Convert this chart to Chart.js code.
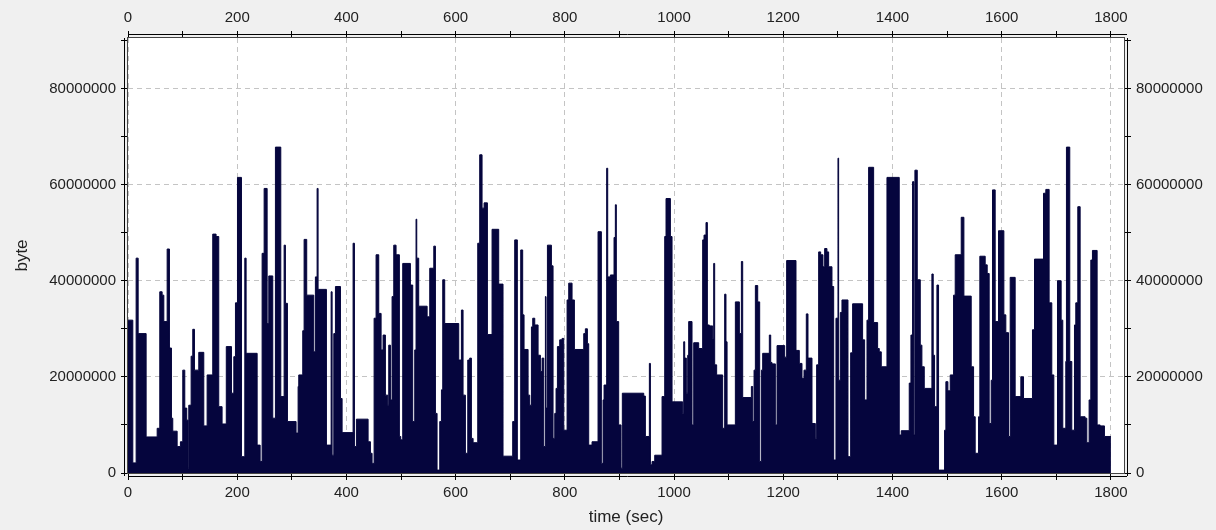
<!DOCTYPE html>
<html>
<head>
<meta charset="utf-8">
<script src="https://cdn.jsdelivr.net/npm/chart.js@4.4.0/dist/chart.umd.min.js"></script>
<style>
  html, body { margin: 0; padding: 0; background: #f0f0f0; }
  #wrap { width: 1216px; height: 530px; position: relative; }
</style>
</head>
<body>
<div id="wrap"><canvas id="traffic"></canvas></div>
<script>
// step start times (sec) and the byte count held from that time on
const times = [
  0, 8.8, 14.9, 18.6, 33.2, 53.4, 58.2, 62.5, 65.6, 71.7, 75.9, 79.6, 82, 90, 96, 100.3, 104, 107.6, 110, 111.3,
  115.6, 118.6, 121.7, 129.6, 138.8, 144.9, 155.2, 161.3, 166.2, 172.3,
  180, 189.5, 193.8, 196.8, 200.5, 207.8, 213.9, 216.3, 236.5, 242, 245.6, 249.3, 254.8, 257.8, 265.1, 270, 279.8,
  285.9, 288.3, 292, 307.8, 311.5, 312.7, 320, 322.5, 327.3, 340.2, 343.2, 346.3, 348.1,
  363.4, 372, 373.8, 376.9, 379.9, 389.1, 392.1, 412.2, 414.7, 418.3, 439.7, 444, 447, 450.7, 454.3, 459.2, 463.5,
  467.1, 471.4, 475.7, 477.5, 480.6, 483.6, 486.7, 490.9, 497, 499.5, 503.1, 517.2, 521.4, 525.1, 527.5, 528.8, 532.4,
  547.8, 552.6, 560, 563, 566, 570.9, 574, 576.4, 580, 605.7, 610.6, 613.6, 617.9, 622.2, 625.8, 628.9, 632, 640.5,
  644.1, 648.4, 652.1, 658.2, 666.7, 678.9, 686.8, 704.5, 708.2, 713, 719.2, 722.8, 725.3,
  732.7, 735.7, 738.8, 741.2, 744.9, 751, 755.3, 758.3, 761.4, 764.4, 765.6, 768.1, 775.4, 778.4, 781.5, 783.9, 786.4,
  790.6, 794.9, 798, 804.1, 807.1, 813.2, 817.5, 834.6, 837.6, 841.3, 843.7, 849.8, 860.8, 866.9, 870, 871.8, 876.6,
  878.5, 883.4, 890.1, 892.5, 894.3, 898.6, 902.9, 905.3,
  944.5, 947.5, 954.8, 956.7, 959.7, 964.6, 978, 982.9, 985.3, 993.3, 996.3, 1015.8, 1017.7, 1019.5, 1022.5, 1025,
  1026.8, 1032.9, 1036, 1045.1, 1052.4, 1054.9, 1058.5, 1061, 1064.6, 1070.7, 1072.6, 1074.4, 1078, 1089, 1092.7, 1095.1,
  1097.1, 1112.3, 1119.6, 1123.3, 1125.7, 1141.6, 1144, 1146.5, 1148.9, 1153.2, 1156.8, 1159.9, 1162.3, 1174.5, 1177,
  1179.4, 1185.5, 1188.6, 1202.6, 1206.2, 1223.3, 1229.4, 1234.3, 1238, 1242.2, 1245.3, 1252.6, 1258.7, 1261.1, 1264.8,
  1268.5, 1272.7, 1275.8,
  1280, 1283.1, 1289.2, 1292.3, 1296.5, 1300.2, 1301.4, 1304.5, 1307.5, 1318.5, 1323.4, 1327, 1345.3, 1349, 1353.3,
  1356.3, 1365.5, 1372.8, 1375.8, 1379.5, 1389.9, 1412.4, 1416.1, 1430.7, 1433.8, 1436.8, 1439.3, 1441.1, 1445.4,
  1450.9, 1453.9, 1458.2,
  1472.2, 1474.6, 1477.1, 1481.4, 1484.4, 1495.4, 1497.8, 1501.5, 1505.8, 1511.9, 1514.9, 1525.9, 1530.8, 1544.2,
  1548.5, 1551.5, 1557.6, 1560, 1569.8, 1573.5, 1577.1, 1580.8, 1583.2, 1588.1, 1594.2, 1604, 1607.6, 1612.5, 1615.6,
  1624.7, 1635.1, 1640,
  1656.4, 1660.1, 1676.6, 1680.8, 1686.9, 1691.8, 1695.5, 1702.2, 1708.9, 1711.9, 1717.4, 1718.6, 1724.7, 1728.4,
  1733.3, 1735.7, 1739.4, 1743.7, 1752.8, 1755.9, 1760.1, 1763.2, 1766.2, 1774.8, 1780.3, 1788.2, 1800
];
const bytes = [
  31.8e6, 2.1e6, 44.7e6, 29e6, 7.5e6, 9.3e6, 37.7e6, 37e6, 31.5e6, 46.6e6, 26e6, 11.4e6, 8.7e6, 5.5e6, 6.5e6, 21.4e6, 13.5e6, 11e6, 1e6, 14.1e6,
  24.3e6, 29.9e6, 21.4e6, 25.1e6, 9.8e6, 20.4e6, 49.7e6, 49.2e6, 13.8e6, 10.2e6,
  26.3e6, 16.6e6, 24.2e6, 35.4e6, 61.5e6, 3.4e6, 44.7e6, 24.9e6, 5.8e6, 2.4e6, 45.7e6, 59.2e6, 31.1e6, 41e6, 11.4e6, 67.8e6, 15.9e6,
  47.4e6, 35.3e6, 10.7e6, 8.3e6, 18e6, 20.4e6, 29.6e6, 48.6e6, 37e6, 25.2e6, 40.8e6, 59.2e6, 38.2e6,
  5.8e6, 37.7e6, 3.7e6, 29e6, 38.8e6, 15.5e6, 8.4e6, 47.8e6, 5.5e6, 11.2e6, 6.5e6, 4.1e6, 2e6, 32.2e6, 45.4e6, 33.2e6, 25.6e6,
  28.7e6, 16.2e6, 14.1e6, 26.6e6, 15.2e6, 36.7e6, 47.4e6, 45.4e6, 7.6e6, 6.9e6, 43.6e6, 39.1e6, 10.7e6, 25.6e6, 52.8e6, 44.7e6, 34.7e6,
  32.5e6, 42.6e6, 47.2e6, 12.4e6, 0.6e6, 10.7e6, 17.3e6, 40.2e6, 31.1e6, 23.5e6, 33.9e6, 16.2e6, 4.1e6, 23.5e6, 23.9e6, 7.2e6, 6.3e6, 47.8e6,
  66.2e6, 55.1e6, 56.2e6, 28.8e6, 50.7e6, 39.3e6, 3.5e6, 10.7e6, 48.5e6, 2.7e6, 46.4e6, 32.9e6, 25.7e6,
  16.2e6, 14.1e6, 30.4e6, 32.2e6, 30.8e6, 24.5e6, 21.1e6, 23.9e6, 5.5e6, 36.7e6, 13.5e6, 47.4e6, 43.1e6, 7.2e6, 12.4e6, 17.6e6, 26.3e6,
  27.7e6, 28e6, 8.9e6, 36e6, 39.5e6, 36e6, 25.7e6, 29e6, 30e6, 26.9e6, 5.8e6, 6.5e6, 50.2e6, 2e6, 15.2e6, 18.3e6, 63.4e6,
  40.8e6, 41.2e6, 49e6, 55.8e6, 31.5e6, 10e6, 1e6, 16.6e6,
  16e6, 7.6e6, 22.8e6, 1.7e6, 2.4e6, 3.7e6, 15.9e6, 49.2e6, 57.1e6, 49.2e6, 14.8e6, 12.4e6, 27.3e6, 23.9e6, 16.6e6, 24.5e6,
  31.5e6, 10e6, 27.1e6, 25.9e6, 48.5e6, 49.5e6, 52.1e6, 30.8e6, 30.6e6, 28e6, 43.6e6, 22.5e6, 20.4e6, 9.3e6, 37.2e6, 27.3e6,
  10e6, 35.6e6, 29e6, 44e6, 15.7e6, 18e6, 10.7e6, 21.4e6, 39e6, 35.6e6, 2.4e6, 21.4e6, 24.9e6, 28.7e6, 23e6,
  22.7e6, 10e6, 26.5e6, 24.1e6, 44.2e6, 25.5e6, 22.8e6, 19.7e6, 21.4e6, 33.1e6, 23.9e6, 10.3e6, 7.2e6, 22.5e6, 46e6,
  45.4e6, 42.9e6, 46.7e6,
  46e6, 42.9e6, 38.8e6, 2.7e6, 32.2e6, 65.5e6, 19.3e6, 33.4e6, 36e6, 3.4e6, 25e6, 35.2e6, 27.7e6, 15.2e6, 31.8e6,
  63.6e6, 31.3e6, 25.9e6, 25.2e6, 22.1e6, 61.5e6, 7.9e6, 8.8e6, 18.7e6, 28.7e6, 60.6e6, 7.9e6, 63e6, 40.2e6,
  26.6e6, 22.1e6, 17.6e6,
  41.4e6, 24.5e6, 13.8e6, 39.1e6, 0.6e6, 8.9e6, 19e6, 17.1e6, 20.4e6, 37e6, 45.4e6, 53.2e6, 36.8e6, 22.1e6,
  11.7e6, 4.1e6, 11.7e6, 45.1e6, 43.3e6, 41.5e6, 10.3e6, 19.3e6, 58.9e6, 31.5e6, 50.4e6, 32.9e6, 29.2e6, 7.6e6, 40.7e6,
  15.9e6, 20e6, 15.5e6,
  29.8e6, 44.5e6, 58.2e6, 59e6, 35.4e6, 20.4e6, 5.8e6, 40e6, 31.8e6, 9.3e6, 23.2e6, 67.8e6, 23.2e6, 8.9e6,
  30.8e6, 35.4e6, 55.4e6, 11.7e6, 11.4e6, 6.3e6, 15.2e6, 44.3e6, 46.3e6, 10e6, 9.8e6, 7.6e6, 7.6e6
];

// tick marks (every one gets a mark, the labelled ones also get a grid line)
const xTicks = [0, 100, 200, 300, 400, 500, 600, 700, 800, 900, 1000, 1100, 1200, 1300, 1400, 1500, 1600, 1700, 1800];
const xLabelled = [0, 200, 400, 600, 800, 1000, 1200, 1400, 1600, 1800];
const yTicks = [0, 10e6, 20e6, 30e6, 40e6, 50e6, 60e6, 70e6, 80e6, 90e6];
const yLabelled = [0, 20e6, 40e6, 60e6, 80e6];

const X_MAX = 1824;
const Y_MAX = 90.5e6;

const gridGrey = '#c4c4c4';
const barColour = '#05053d';

Chart.defaults.font.family = "'Liberation Sans', Arial, sans-serif";
Chart.defaults.font.size = 15;
Chart.defaults.color = '#222';

const points = times.map((t, i) => ({ x: t, y: bytes[i] }));

// background + frame the way the old desktop chart draws it
const framePlugin = {
  id: 'frame',
  beforeDraw(chart) {
    const ctx = chart.ctx;
    const a = chart.chartArea;
    ctx.save();
    ctx.fillStyle = '#f0f0f0';
    ctx.fillRect(0, 0, chart.width, chart.height);
    ctx.fillStyle = '#ffffff';
    ctx.fillRect(a.left, a.top, a.right - a.left, a.bottom - a.top);
    ctx.restore();
  },
  afterDraw(chart) {
    const ctx = chart.ctx;
    const a = chart.chartArea;
    ctx.save();
    ctx.strokeStyle = '#444';
    ctx.lineWidth = 1;
    ctx.strokeRect(a.left - 0.5, a.top - 0.5, a.right - a.left + 1, a.bottom - a.top + 1);
    ctx.strokeStyle = '#000';
    ctx.beginPath();
    ctx.moveTo(a.left - 3.5, a.top);
    ctx.lineTo(a.left - 3.5, a.bottom + 3);
    ctx.moveTo(a.left, a.top - 3.5);
    ctx.lineTo(a.right + 3, a.top - 3.5);
    ctx.moveTo(a.right + 3.5, a.top);
    ctx.lineTo(a.right + 3.5, a.bottom + 3);
    ctx.moveTo(a.left, a.bottom + 3.5);
    ctx.lineTo(a.right + 3, a.bottom + 3.5);
    ctx.stroke();
    ctx.restore();
  }
};

function axis(kind, position, size) {
  const ticks = kind === 'x' ? xTicks : yTicks;
  const labelled = kind === 'x' ? xLabelled : yLabelled;
  const onChart = position === 'bottom' || position === 'left';
  return {
    type: 'linear',
    position: position,
    min: 0,
    max: kind === 'x' ? X_MAX : Y_MAX,
    afterBuildTicks(scale) { scale.ticks = ticks.map((v) => ({ value: v })); },
    afterFit(scale) {
      if (kind === 'x') scale.height = size; else scale.width = size;
    },
    ticks: {
      autoSkip: false,
      maxRotation: 0,
      padding: kind === 'x' ? 4 : 5,
      callback: (v) => (labelled.includes(v) ? String(v) : '')
    },
    grid: {
      drawOnChartArea: onChart,
      color: (c) => (c.tick && labelled.includes(c.tick.value) ? gridGrey : 'rgba(0,0,0,0)'),
      tickColor: '#000',
      tickLength: 7
    },
    border: { display: false, dash: [5, 4] }
  };
}

const scales = {
  x: axis('x', 'bottom', 57),
  x2: axis('x', 'top', 38),
  y: axis('y', 'left', 128),
  y2: axis('y', 'right', 92)
};
scales.x.title = { display: true, text: 'time (sec)', font: { size: 17 }, padding: { top: 0, bottom: 2 } };
scales.y.title = { display: true, text: 'byte', font: { size: 17 }, padding: { top: 12, bottom: 0 } };

new Chart(document.getElementById('traffic'), {
  type: 'line',
  data: {
    datasets: [{
      label: 'byte',
      data: points,
      stepped: true,
      fill: 'origin',
      backgroundColor: barColour,
      borderColor: barColour,
      borderWidth: 1,
      pointRadius: 0,
      xAxisID: 'x',
      yAxisID: 'y'
    }]
  },
  options: {
    responsive: true,
    maintainAspectRatio: false,
    animation: false,
    layout: { padding: 0 },
    plugins: { legend: { display: false }, tooltip: { enabled: false } },
    scales: scales
  },
  plugins: [framePlugin]
});
</script>
</body>
</html>
